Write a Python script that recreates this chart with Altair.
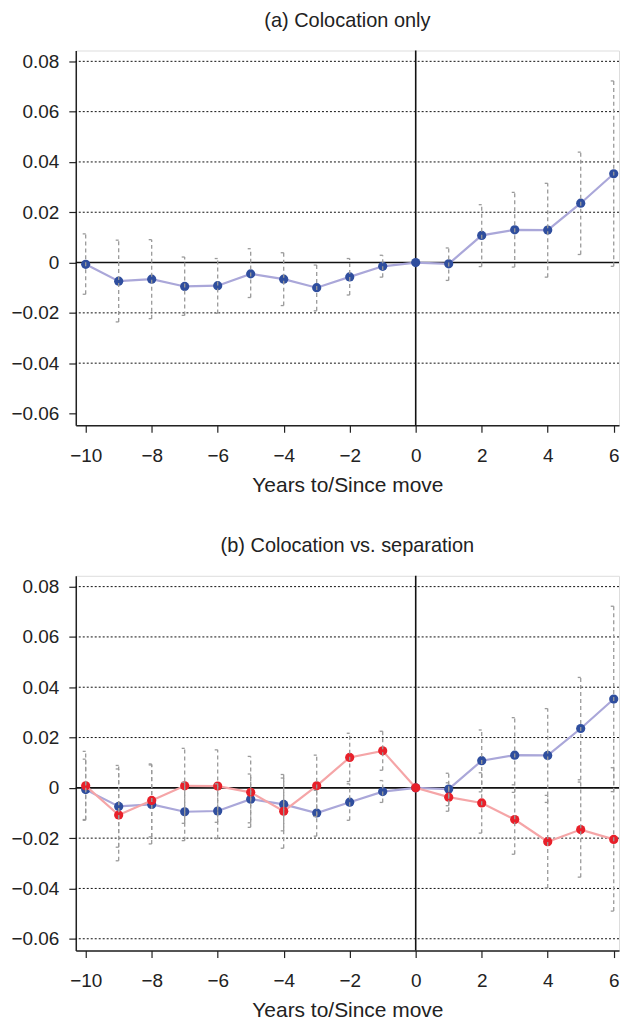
import altair as alt
import pandas as pd

years = [-10, -9, -8, -7, -6, -5, -4, -3, -2, -1, 0, 1, 2, 3, 4, 5, 6]

# Colocation (blue) estimates and CIs
blue_est = [-0.0007, -0.0074, -0.0066, -0.0095, -0.0092, -0.0045, -0.0066, -0.0100, -0.0057, -0.0015,
            0.0, -0.0005, 0.0108, 0.0130, 0.0129, 0.0236, 0.0353]
blue_lo = [-0.0126, -0.0236, -0.0223, -0.0210, -0.0202, -0.0139, -0.0171, -0.0192, -0.0129, -0.0058,
           None, -0.0071, -0.0016, -0.0018, -0.0058, 0.0032, -0.0015]
blue_hi = [0.0114, 0.0089, 0.0091, 0.0022, 0.0016, 0.0055, 0.0039, -0.0010, 0.0016, 0.0029,
           None, 0.0058, 0.0230, 0.0279, 0.0315, 0.0439, 0.0722]

# Separation (red) estimates and CIs
red_est = [0.0008, -0.0108, -0.0050, 0.0008, 0.0007, -0.0018, -0.0093, 0.0008, 0.0121, 0.0147,
           0.0, -0.0037, -0.0060, -0.0126, -0.0214, -0.0166, -0.0205]
red_lo = [-0.0129, -0.0290, -0.0195, -0.0141, -0.0137, -0.0157, -0.0240, -0.0114, 0.0025, 0.0070,
          None, -0.0093, -0.0180, -0.0264, -0.0398, -0.0355, -0.0490]
red_hi = [0.0145, 0.0075, 0.0095, 0.0157, 0.0151, 0.0125, 0.0053, 0.0130, 0.0217, 0.0225,
          None, 0.0020, 0.0060, 0.0012, -0.0030, 0.0023, 0.0080]

y_ticks = [-0.06, -0.04, -0.02, 0, 0.02, 0.04, 0.06, 0.08]
x_ticks = [-10, -8, -6, -4, -2, 0, 2, 4, 6]
grid_a = [-0.04, -0.02, 0.02, 0.04, 0.06, 0.08]
grid_b = [-0.06, -0.04, -0.02, 0.02, 0.04, 0.06, 0.08]

BLUE_PT = "#2f4e9e"
BLUE_LN = "#aaa7d9"
RED_PT = "#e8202a"
RED_LN = "#f5a5a7"
CI_COL = "#9a9a9a"
FONT = "Liberation Sans"

W, H = 545, 376

xs = alt.Scale(domain=[-10.3, 6.16], nice=False, zero=False)
ys = alt.Scale(domain=[-0.0647, 0.0843], nice=False, zero=False)

xaxis = alt.Axis(values=x_ticks, format="d", title="Years to/Since move", grid=False,
                 domainColor="#222", domainWidth=1.5, tickColor="#222", tickSize=7, tickWidth=1.2,
                 labelFontSize=19, titleFontSize=21, labelFont=FONT, titleFont=FONT,
                 titleFontWeight="normal", labelColor="#222", titleColor="#222",
                 labelPadding=14, titlePadding=9)
yaxis = alt.Axis(values=y_ticks, title=None, grid=False,
                 labelExpr="abs(datum.value) < 1e-9 ? '0' : format(datum.value, '.2f')",
                 domainColor="#222", domainWidth=1.5, tickColor="#222", tickSize=7, tickWidth=1.2,
                 labelFontSize=19, labelFont=FONT, labelColor="#222", labelPadding=10)


def series_df(est, lo, hi):
    return pd.DataFrame({"year": years, "est": est, "lo": lo, "hi": hi})


def panel(title, series, grid):
    gdf = pd.DataFrame({"g": grid})
    grid_layer = alt.Chart(gdf).mark_rule(color="#111", strokeDash=[2, 2], strokeWidth=1).encode(
        y=alt.Y("g:Q", scale=ys, axis=yaxis))
    zero_h = alt.Chart(pd.DataFrame({"z": [0]})).mark_rule(color="#111", strokeWidth=1.6).encode(
        y=alt.Y("z:Q", scale=ys))
    zero_v = alt.Chart(pd.DataFrame({"z": [0]})).mark_rule(color="#111", strokeWidth=1.6).encode(
        x=alt.X("z:Q", scale=xs, axis=xaxis))
    layers = [grid_layer, zero_h, zero_v]
    ci_layers = []
    for df, pcol, lcol in series:
        base = alt.Chart(df)
        layers.append(base.mark_line(color=lcol, strokeWidth=2.2).encode(
            x=alt.X("year:Q", scale=xs), y=alt.Y("est:Q", scale=ys)))
        layers.append(base.mark_circle(color=pcol, size=85, opacity=1).encode(
            x=alt.X("year:Q", scale=xs), y=alt.Y("est:Q", scale=ys)))
        cdf = df.dropna()
        cb = alt.Chart(cdf)
        ci_layers.append(cb.mark_rule(color=CI_COL, strokeDash=[4, 3], strokeWidth=1.3).encode(
            x=alt.X("year:Q", scale=xs), y=alt.Y("lo:Q", scale=ys), y2="hi:Q"))
        ci_layers.append(cb.mark_rule(color=CI_COL, strokeWidth=1.3, xOffset=-3, x2Offset=0).encode(
            x=alt.X("year:Q", scale=xs), x2="year:Q", y=alt.Y("lo:Q", scale=ys)))
        ci_layers.append(cb.mark_rule(color=CI_COL, strokeWidth=1.3, xOffset=-3, x2Offset=0).encode(
            x=alt.X("year:Q", scale=xs), x2="year:Q", y=alt.Y("hi:Q", scale=ys)))
    return alt.layer(*(layers + ci_layers)).properties(
        width=W, height=H,
        title=alt.TitleParams(title, fontSize=20, font=FONT, fontWeight="normal", color="#222",
                              anchor="middle", offset=13, dy=-6))


blue = series_df(blue_est, blue_lo, blue_hi)
red = series_df(red_est, red_lo, red_hi)

pa = panel("(a) Colocation only", [(blue, BLUE_PT, BLUE_LN)], grid_a)
pb = panel("(b) Colocation vs. separation", [(blue, BLUE_PT, BLUE_LN), (red, RED_PT, RED_LN)], grid_b)

chart = alt.vconcat(pa, pb, spacing=39).properties(
    padding={"left": 2, "top": 0, "right": 0, "bottom": 0}
).configure_view(stroke=None).configure(background="white")

chart.save("out.html", embed_options={"renderer": "svg", "actions": False})
